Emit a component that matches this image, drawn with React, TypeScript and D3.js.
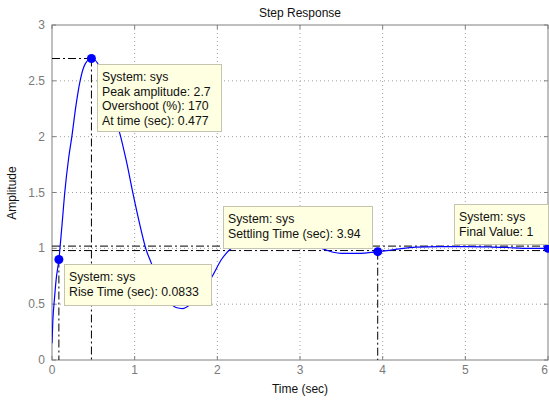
import React from "react";
import * as d3 from "d3";

const timeData = [0, 0.01, 0.03, 0.05, 0.0833, 0.12, 0.157, 0.2, 0.24, 0.29, 0.34, 0.4, 0.477, 0.55, 0.65, 0.75, 0.82, 0.9, 0.98, 1.06, 1.14, 1.2, 1.3, 1.4, 1.5, 1.58, 1.66, 1.75, 1.85, 1.93, 2.05, 2.17, 2.3, 2.5, 2.7, 2.9, 3.1, 3.26, 3.4, 3.5, 3.7, 3.94, 4.1, 4.2, 4.4, 4.7, 5.0, 5.3, 5.5, 5.7, 6.0];
const ampData = [0.15, 0.35, 0.55, 0.72, 0.9, 1.2, 1.52, 1.8, 2.0, 2.28, 2.5, 2.65, 2.7, 2.66, 2.45, 2.2, 2.03, 1.78, 1.49, 1.22, 0.985, 0.87, 0.68, 0.54, 0.47, 0.46, 0.49, 0.56, 0.66, 0.74, 0.9, 1.0, 1.04, 1.06, 1.06, 1.04, 1.02, 1.0, 0.965, 0.955, 0.955, 0.97, 0.985, 0.995, 1.01, 1.015, 1.015, 1.012, 1.008, 1.0, 1.0];

const xTicks = [0, 1, 2, 3, 4, 5, 6];
const yTicks = [0, 0.5, 1, 1.5, 2, 2.5, 3];
const yTickLabels = ["0", "0.5", "1", "1.5", "2", "2.5", "3"];

const peakT = 0.477, peakV = 2.7;
const riseT = 0.0833, riseV = 0.9;
const settleT = 3.94, settleV = 0.97;
const finalT = 6, finalV = 1;
const settleBand = [1.02, 0.98];

const tip1 = ["System: sys", "Peak amplitude: 2.7", "Overshoot (%): 170", "At time (sec): 0.477"];
const tip2 = ["System: sys", "Rise Time (sec): 0.0833"];
const tip3 = ["System: sys", "Settling Time (sec): 3.94"];
const tip4 = ["System: sys", "Final Value: 1"];

const W = 549, H = 400;
const L = 52, R = 548, T = 25, B = 360;
const FONT = "Liberation Sans, Arial, Helvetica, sans-serif";

export default function App() {
  const x = d3.scaleLinear().domain([0, 6]).range([L, R]);
  const y = d3.scaleLinear().domain([0, 3]).range([B, T]);
  const pts = timeData.map((t, i) => [t, ampData[i]] as [number, number]);
  const line = d3.line<[number, number]>().x(d => x(d[0])).y(d => y(d[1])).curve(d3.curveMonotoneX);
  const dash = "8,3,2,3";
  const tip = (lines: string[], bx: number, by: number, bw: number, bh: number, key: string) => (
    <g key={key}>
      <rect x={bx + 0.5} y={by + 0.5} width={bw} height={bh} fill="#ffffe1" stroke="#c4c4b0" strokeWidth={1} />
      {lines.map((s, i) => (
        <text key={i} x={bx + 5} y={by + 17 + i * 14.5} fontSize={12.3} fontFamily={FONT} fill="#111">{s}</text>
      ))}
    </g>
  );
  return (
    <svg width={W} height={H} style={{ position: "absolute", left: 0, top: 0, background: "#fff" }}>
      <defs>
        <clipPath id="pc"><rect x={L} y={T} width={R - L + 4} height={B - T} /></clipPath>
      </defs>
      <rect x={0} y={0} width={W} height={H} fill="#fff" />
      {xTicks.slice(1, -1).map(t => (
        <line key={"gx" + t} x1={x(t)} x2={x(t)} y1={T} y2={B} stroke="#a0a0a0" strokeDasharray="1,3" strokeWidth={1} />
      ))}
      {yTicks.slice(1, -1).map(t => (
        <line key={"gy" + t} x1={L} x2={R} y1={y(t)} y2={y(t)} stroke="#a0a0a0" strokeDasharray="1,3" strokeWidth={1} />
      ))}
      <rect x={L} y={T} width={R - L} height={B - T} fill="none" stroke="#808080" strokeWidth={1} />
      {xTicks.map((t, i) => (
        <g key={"xt" + t}>
          <line x1={x(t)} x2={x(t)} y1={B} y2={B - 4} stroke="#808080" />
          <line x1={x(t)} x2={x(t)} y1={T} y2={T + 4} stroke="#808080" />
          <text x={i === xTicks.length - 1 ? W - 1 : x(t)} y={374} textAnchor={i === xTicks.length - 1 ? "end" : "middle"} fontSize={12} fontFamily={FONT} fill="#7a7a7a">{t}</text>
        </g>
      ))}
      {yTicks.map((t, i) => (
        <g key={"yt" + t}>
          <line x1={L} x2={L + 4} y1={y(t)} y2={y(t)} stroke="#808080" />
          <line x1={R} x2={R - 4} y1={y(t)} y2={y(t)} stroke="#808080" />
          <text x={45} y={y(t) + 4} textAnchor="end" fontSize={12} fontFamily={FONT} fill="#7a7a7a">{yTickLabels[i]}</text>
        </g>
      ))}
      <g stroke="#000" strokeWidth={1} strokeDasharray={dash} fill="none">
        <line x1={L} x2={x(peakT)} y1={y(peakV)} y2={y(peakV)} />
        <line x1={x(peakT)} x2={x(peakT)} y1={y(peakV)} y2={B} />
        <line x1={x(riseT)} x2={x(riseT)} y1={y(riseV)} y2={B} />
        {settleBand.map(v => (
          <line key={"sb" + v} x1={L} x2={R} y1={y(v)} y2={y(v)} />
        ))}
        <line x1={x(settleT)} x2={x(settleT)} y1={y(settleV)} y2={B} />
      </g>
      <g clipPath="url(#pc)">
        <path d={line(pts) || ""} fill="none" stroke="#0000ff" strokeWidth={1.2} />
        {[[peakT, peakV], [riseT, riseV], [settleT, settleV], [finalT, finalV]].map((p, i) => (
          <circle key={"m" + i} cx={x(p[0])} cy={y(p[1])} r={4.5} fill="#0000ff" />
        ))}
      </g>
      {tip(tip1, 97, 64, 124, 67, "t1")}
      {tip(tip2, 64, 264, 147, 41, "t2")}
      {tip(tip3, 223, 206, 149, 42, "t3")}
      {tip(tip4, 454, 204, 94, 40, "t4")}
      <text x={300} y={17} textAnchor="middle" fontSize={12} fontFamily={FONT} fill="#111">Step Response</text>
      <text x={300} y={393} textAnchor="middle" fontSize={12} fontFamily={FONT} fill="#111">Time (sec)</text>
      <text transform={`translate(16,193) rotate(-90)`} textAnchor="middle" fontSize={12} fontFamily={FONT} fill="#111">Amplitude</text>
    </svg>
  );
}
